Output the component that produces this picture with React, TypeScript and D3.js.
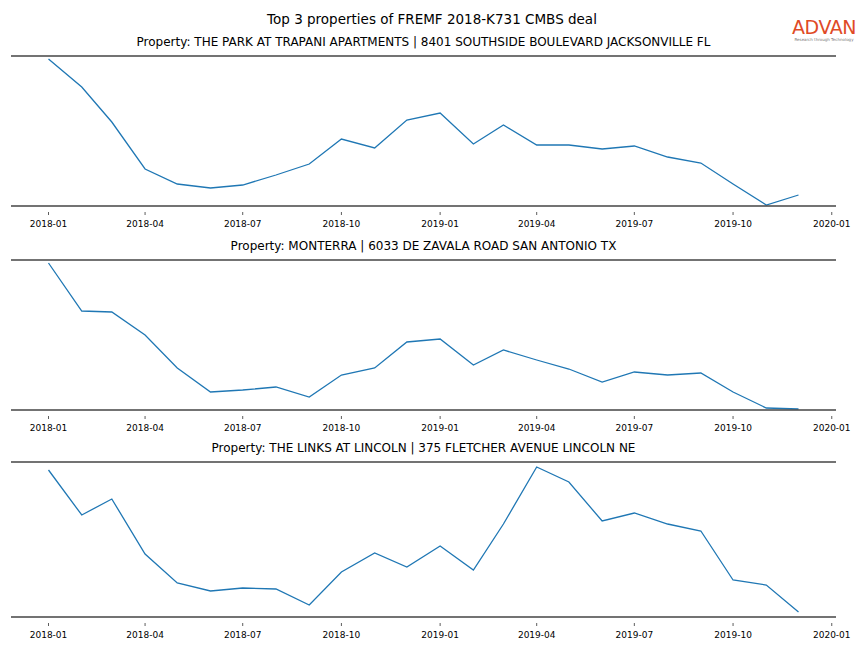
import React from 'react'
import * as d3 from 'd3'

const months: string[] = [
  '2018-01', '2018-02', '2018-03', '2018-04', '2018-05', '2018-06',
  '2018-07', '2018-08', '2018-09', '2018-10', '2018-11', '2018-12',
  '2019-01', '2019-02', '2019-03', '2019-04', '2019-05', '2019-06',
  '2019-07', '2019-08', '2019-09', '2019-10', '2019-11', '2019-12',
]

const tickLabels: string[] = [
  '2018-01', '2018-04', '2018-07', '2018-10', '2019-01',
  '2019-04', '2019-07', '2019-10', '2020-01',
]

const titles: string[] = [
  'Property: THE PARK AT TRAPANI APARTMENTS | 8401 SOUTHSIDE BOULEVARD JACKSONVILLE FL',
  'Property: MONTERRA | 6033 DE ZAVALA ROAD SAN ANTONIO TX',
  'Property: THE LINKS AT LINCOLN | 375 FLETCHER AVENUE LINCOLN NE',
]

const trapani: number[] = [
  147, 119, 84, 37, 22, 18, 21, 31, 42, 67, 58, 86,
  93, 62, 81, 61, 61, 57, 60, 49, 43, 22, 1, 11,
]
const monterra: number[] = [
  147, 99, 98, 75, 42, 18, 20, 23, 13, 35, 42, 68,
  71, 45, 60, 50, 41, 28, 38, 35, 37, 18, 2, 1,
]
const links: number[] = [
  147, 102, 118, 63, 34, 26, 29, 28, 12, 45, 64, 50,
  71, 47, 93, 150, 135, 96, 104, 93, 86, 37, 32, 5,
]

const series = [trapani, monterra, links]

// panel layout: top spine / bottom spine
const panels = [
  { top: 56, bottom: 206 },
  { top: 260, bottom: 410 },
  { top: 462, bottom: 617 },
]

const W = 864
const H = 648
const left = 11
const right = 836
const font = '"DejaVu Sans", sans-serif'

const parse = d3.timeParse('%Y-%m')

const App = () => {
  const dates = months.map((m) => parse(m) as Date)
  const first = dates[0].getTime()
  const last = dates[dates.length - 1].getTime()
  const pad = (last - first) * 0.05
  const x = d3
    .scaleTime()
    .domain([new Date(first - pad), new Date(last + pad)])
    .range([left, right])

  const ticks = tickLabels.map((t) => parse(t) as Date)

  return (
    <svg width={W} height={H} style={{ position: 'absolute', left: 0, top: 0 }}>
      <rect width={W} height={H} fill="#fff" />
      <text x={432} y={24} textAnchor="middle" fontFamily={font} fontSize={13.5}>
        Top 3 properties of FREMF 2018-K731 CMBS deal
      </text>
      <text x={824} y={34} textAnchor="middle" fontFamily={font} fontSize={19} fill="#e04a26" letterSpacing={-0.5}>
        ADVAN
      </text>
      <text x={824} y={40.5} textAnchor="middle" fontFamily={font} fontSize={4} fill="#777">
        Research through Technology
      </text>
      {panels.map((p, i) => {
        const vals = series[i]
        const y = d3
          .scaleLinear()
          .domain([0, p.bottom - p.top])
          .range([p.bottom, p.top])
        const line = d3
          .line<number>()
          .x((_, j) => x(dates[j]))
          .y((v) => y(v))
        return (
          <g key={i}>
            <text
              x={(left + right) / 2}
              y={p.top - 10}
              textAnchor="middle"
              fontFamily={font}
              fontSize={12}
            >
              {titles[i]}
            </text>
            <path d={line(vals) as string} fill="none" stroke="#1f77b4" strokeWidth={1.3} />
            <line x1={left} x2={right} y1={p.top} y2={p.top} stroke="#444" strokeWidth={1.6} />
            <line x1={left} x2={right} y1={p.bottom} y2={p.bottom} stroke="#444" strokeWidth={1.6} />
            {ticks.map((t, k) => (
              <g key={k} transform={`translate(${x(t)},${p.bottom})`}>
                <line y1={6} y2={9} stroke="#333" strokeWidth={0.8} />
                <text y={21} textAnchor="middle" fontFamily={font} fontSize={9}>
                  {tickLabels[k]}
                </text>
              </g>
            ))}
          </g>
        )
      })}
    </svg>
  )
}

export default App
